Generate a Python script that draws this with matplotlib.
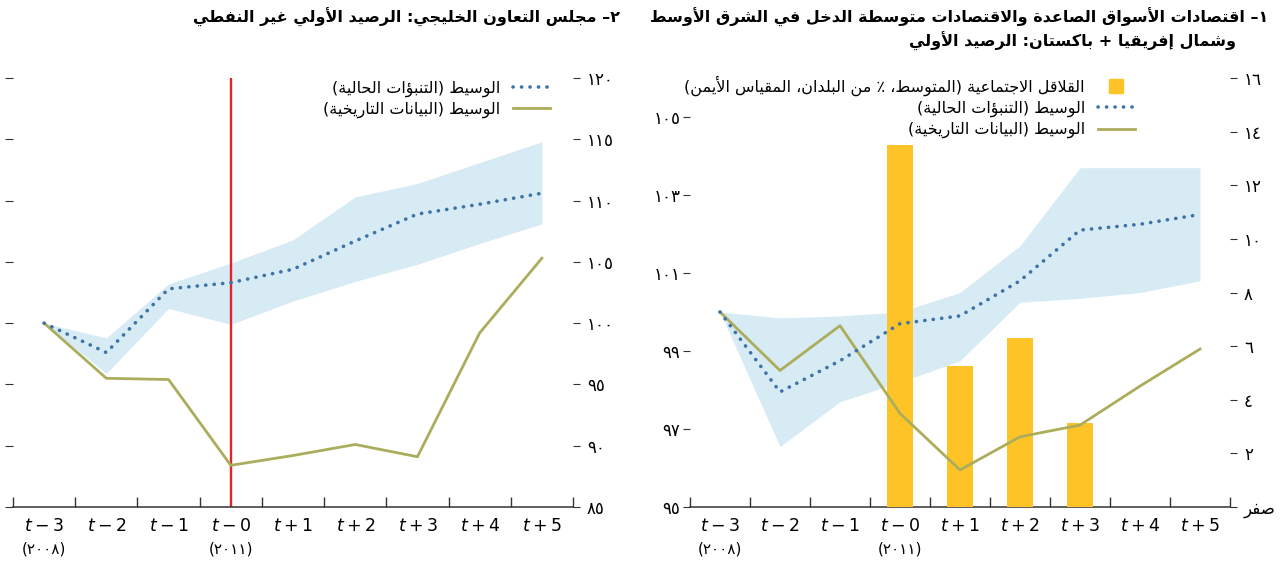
import numpy as np
import matplotlib
matplotlib.use('Agg')
import matplotlib.pyplot as plt
from matplotlib.lines import Line2D
import matplotlib.transforms as mtransforms

# ---- data ----
periods = [r'$t-3$', r'$t-2$', r'$t-1$', r'$t-0$', r'$t+1$', r'$t+2$', r'$t+3$', r'$t+4$', r'$t+5$']
year_pos = [0, 3]
year_labels = ['(٢٠٠٨)', '(٢٠١١)']

# panel 2: GCC non-oil primary balance
gcc_hist = [100, 95.5, 95.4, 88.4, 89.2, 90.1, 89.1, 99.2, 105.3]
gcc_med = [100, 97.6, 102.8, 103.3, 104.4, 106.7, 108.9, 109.7, 110.6]
gcc_hi = [100, 98.8, 103.2, 104.9, 106.8, 110.3, 111.4, 113.1, 114.8]
gcc_lo = [100, 95.9, 101.2, 99.9, 101.8, 103.4, 104.8, 106.5, 108.1]
gcc_ticks = [85, 90, 95, 100, 105, 110, 115, 120]

# panel 1: MENAP EM/MI + Pakistan primary balance
men_hist = [100, 98.5, 99.65, 97.4, 95.95, 96.8, 97.1, 98.1, 99.05]
men_med = [100, 97.95, 98.75, 99.7, 99.9, 100.8, 102.1, 102.25, 102.5]
men_hi = [100, 99.85, 99.9, 100.0, 100.5, 101.7, 103.7, 103.7, 103.7]
men_lo = [100, 96.55, 97.7, 98.2, 98.75, 100.25, 100.35, 100.5, 100.8]
men_ticks = [95, 97, 99, 101, 103, 105]
unrest_pos = [3, 4, 5, 6]
unrest = [13.5, 5.25, 6.3, 3.15]
unrest_ticks = [0, 2, 4, 6, 8, 10, 12, 14, 16]

title_left = '٢– مجلس التعاون الخليجي: الرصيد الأولي غير النفطي'
title_right_1 = '١– اقتصادات الأسواق الصاعدة والاقتصادات متوسطة الدخل في الشرق الأوسط'
title_right_2 = 'وشمال إفريقيا + باكستان: الرصيد الأولي'
lab_med = 'الوسيط (التنبؤات الحالية)'
lab_hist = 'الوسيط (البيانات التاريخية)'
lab_unrest = 'القلاقل الاجتماعية (المتوسط، ٪ من البلدان، المقياس الأيمن)'
zero_label = 'صفر'

# ---- simple arabic shaping (no bidi lib available) ----
FORMS = {'ء': (0xFE80, 1), 'آ': (0xFE81, 2), 'أ': (0xFE83, 2), 'ؤ': (0xFE85, 2),
         'إ': (0xFE87, 2), 'ئ': (0xFE89, 4), 'ا': (0xFE8D, 2), 'ب': (0xFE8F, 4),
         'ة': (0xFE93, 2), 'ت': (0xFE95, 4), 'ث': (0xFE99, 4), 'ج': (0xFE9D, 4),
         'ح': (0xFEA1, 4), 'خ': (0xFEA5, 4), 'د': (0xFEA9, 2), 'ذ': (0xFEAB, 2),
         'ر': (0xFEAD, 2), 'ز': (0xFEAF, 2), 'س': (0xFEB1, 4), 'ش': (0xFEB5, 4),
         'ص': (0xFEB9, 4), 'ض': (0xFEBD, 4), 'ط': (0xFEC1, 4), 'ظ': (0xFEC5, 4),
         'ع': (0xFEC9, 4), 'غ': (0xFECD, 4), 'ف': (0xFED1, 4), 'ق': (0xFED5, 4),
         'ك': (0xFED9, 4), 'ل': (0xFEDD, 4), 'م': (0xFEE1, 4), 'ن': (0xFEE5, 4),
         'ه': (0xFEE9, 4), 'و': (0xFEED, 2), 'ى': (0xFEEF, 2), 'ي': (0xFEF1, 4)}
LAMALEF = {'آ': 0xFEF5, 'أ': 0xFEF7, 'إ': 0xFEF9, 'ا': 0xFEFB}
MIRROR = {'(': ')', ')': '('}


def ar(s):
    toks = []
    i = 0
    while i < len(s):
        if s[i] == 'ل' and i + 1 < len(s) and s[i + 1] in LAMALEF:
            toks.append(('LA', s[i + 1]))
            i += 2
        else:
            toks.append(('C', s[i]))
            i += 1

    def joins_next(t):
        return t[0] == 'C' and t[1] in FORMS and FORMS[t[1]][1] == 4

    def joins_prev(t):
        return t[0] == 'LA' or (t[1] in FORMS and FORMS[t[1]][1] >= 2)

    out = []
    for k, t in enumerate(toks):
        p = k > 0 and joins_next(toks[k - 1]) and joins_prev(t)
        n = k + 1 < len(toks) and joins_next(t) and joins_prev(toks[k + 1])
        if t[0] == 'LA':
            out.append(chr(LAMALEF[t[1]] + (1 if p else 0)))
        elif t[1] in FORMS:
            base, nf = FORMS[t[1]]
            if nf == 4:
                idx = 3 if (p and n) else 2 if n else 1 if p else 0
            elif nf == 2:
                idx = 1 if p else 0
            else:
                idx = 0
            out.append(chr(base + idx))
        else:
            out.append(t[1])
    return ''.join(MIRROR.get(c, c) for c in reversed(out))


def ar_num(v):
    return str(v).translate(str.maketrans('0123456789', '٠١٢٣٤٥٦٧٨٩'))


plt.rcParams['font.family'] = ['DejaVu Sans']
plt.rcParams['mathtext.fontset'] = 'dejavusans'

blue = '#3d73a6'
band = '#d7ebf5'
olive = '#acad5c'
red = '#e3232b'
yellow = '#fec326'

fig = plt.figure(figsize=(12.88, 5.64), dpi=100)
ax_l = fig.add_axes([13 / 1288, 1 - 507 / 564, 560 / 1288, 429 / 564])
ax_r = fig.add_axes([690 / 1288, 1 - 507 / 564, 540 / 1288, 429 / 564])
x = np.arange(len(periods))


def style_x(ax):
    ax.set_xlim(-0.5, 8.5)
    ax.set_xticks(np.arange(-0.5, 9, 1))
    ax.set_xticklabels([])
    ax.tick_params(axis='x', which='major', direction='in', length=7, width=1, color='#333333')
    ax.set_xticks(x, minor=True)
    ax.set_xticklabels(periods, minor=True)
    ax.tick_params(axis='x', which='minor', length=0, pad=7, labelsize=12.5)
    for s in ['top', 'left', 'right']:
        ax.spines[s].set_visible(False)
    ax.spines['bottom'].set_linewidth(1.1)
    ax.spines['bottom'].set_color('#333333')
    tr = mtransforms.blended_transform_factory(ax.transData, ax.transAxes)
    for p, lab in zip(year_pos, year_labels):
        ax.text(p, -0.098, lab, transform=tr, ha='center', va='center', fontsize=11)


# ---- left panel (GCC) ----
ax_l.fill_between(x, gcc_lo, gcc_hi, color=band, lw=0, zorder=1)
ax_l.axvline(3, color=red, lw=1.7, zorder=2)
h_hist, = ax_l.plot(x, gcc_hist, color=olive, lw=2, zorder=3)
h_med, = ax_l.plot(x, gcc_med, color=blue, lw=2.6, ls=(0, (0.05, 2.3)),
                   dash_capstyle='round', zorder=4)
ax_l.set_ylim(85, 120)
ax_l.set_yticks(gcc_ticks)
ax_l.tick_params(axis='y', direction='out', length=6, labelleft=False, color='#333333')
style_x(ax_l)

ax_l2 = ax_l.twinx()
ax_l2.set_ylim(85, 120)
ax_l2.set_yticks(gcc_ticks)
ax_l2.set_yticklabels([ar_num(v) for v in gcc_ticks])
ax_l2.tick_params(axis='y', direction='out', length=5, pad=5, labelsize=12, color='#333333')
for s in ax_l2.spines.values():
    s.set_visible(False)

leg_med = Line2D([], [], color=blue, lw=2.6, ls=(0, (0.05, 2.3)), dash_capstyle='round')
leg_hist = Line2D([], [], color=olive, lw=2)
ax_l2.legend([leg_med, leg_hist], [ar(lab_med), ar(lab_hist)], markerfirst=False,
             frameon=False, loc='upper right', bbox_to_anchor=(0.97, 1.008),
             fontsize=11.5, handlelength=2.3, labelspacing=0.3, borderaxespad=0)

# ---- right panel (MENAP) ----
ax_r.fill_between(x, men_lo, men_hi, color=band, lw=0, zorder=1)
ax_r.set_ylim(95, 106)
ax_r.set_yticks(men_ticks)
ax_r.set_yticklabels([ar_num(v) for v in men_ticks])
ax_r.tick_params(axis='y', direction='out', length=5, pad=2, labelsize=12, color='#333333')
style_x(ax_r)

ax_r2 = ax_r.twinx()
h_bar = ax_r2.bar(unrest_pos, unrest, width=0.44, color=yellow, zorder=2)
ax_r2.plot(x, men_hist, color=olive, lw=2, zorder=3, transform=ax_r.transData)
ax_r2.plot(x, men_med, color=blue, lw=2.6, ls=(0, (0.05, 2.3)),
           dash_capstyle='round', zorder=4, transform=ax_r.transData)
ax_r2.set_xlim(-0.5, 8.5)
ax_r2.set_ylim(0, 16)
ax_r2.set_yticks(unrest_ticks)
ax_r2.set_yticklabels([ar(zero_label)] + [ar_num(v) for v in unrest_ticks[1:]])
ax_r2.tick_params(axis='y', direction='out', length=5, pad=5, labelsize=12, color='#333333')
for s in ax_r2.spines.values():
    s.set_visible(False)

leg_bar = Line2D([], [], ls='none', marker='s', ms=10, color=yellow)
ax_r2.legend([leg_bar, leg_med, leg_hist], [ar(lab_unrest), ar(lab_med), ar(lab_hist)],
             markerfirst=False, frameon=False, loc='upper right', bbox_to_anchor=(0.835, 1.02),
             fontsize=11.5, handlelength=2.3, labelspacing=0.3, borderaxespad=0)

# ---- titles ----
fig.text(620 / 1288, 1 - 17 / 564, ar(title_left), ha='right', va='center',
         fontsize=11.5, fontweight='bold')
fig.text(1268 / 1288, 1 - 17 / 564, ar(title_right_1), ha='right', va='center',
         fontsize=11.5, fontweight='bold')
fig.text(1236 / 1288, 1 - 41 / 564, ar(title_right_2), ha='right', va='center',
         fontsize=11.5, fontweight='bold')

fig.savefig('out.png', dpi=100)
